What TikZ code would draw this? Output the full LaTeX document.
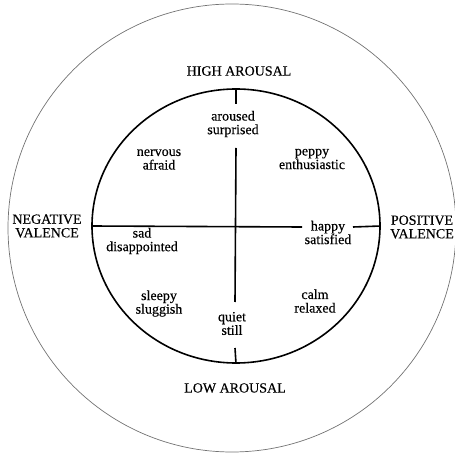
\documentclass[tikz,border=0pt]{standalone}
\usepackage{fontspec}
\setmainfont{Liberation Serif}
\newfontfamily\scanfont[FakeBold=0.35]{Liberation Serif}
\usetikzlibrary{shapes.geometric}
\begin{document}
\begin{tikzpicture}[x=1pt,y=-1pt,
  lbl/.style={align=center,inner sep=1pt,font=\scanfont\fontsize{14}{13.6}\selectfont},
  axis/.style={line width=1.6pt},
]
\useasboundingbox (0,0) rectangle (455,454);
\node[circle,draw=black!55,line width=0.7pt,minimum size=448pt,inner sep=0] (outer) at (232,228) {};
\node[ellipse,draw,line width=1.6pt,minimum width=288pt,minimum height=274pt,inner sep=0] (circ) at (236,226) {};
% labels
\node[lbl] (high) at (239,71) {HIGH AROUSAL};
\node[lbl] (low) at (235,388) {LOW AROUSAL};
\node[lbl] (neg) at (47,226) {NEGATIVE\\VALENCE};
\node[lbl] (pos) at (422,227) {POSITIVE\\VALENCE};
\node[lbl] (aroused) at (233,124) {aroused\\surprised};
\node[lbl] (nervous) at (159,159.5) {nervous\\afraid};
\node[lbl] (peppy) at (312,159) {peppy\\enthusiastic};
\node[lbl] (happy) at (328,232.5) {happy\\satisfied};
\node[lbl] (sad) at (142,241) {sad\\disappointed};
\node[lbl] (sleepy) at (159,303.5) {sleepy\\sluggish};
\node[lbl] (quiet) at (232,323.5) {quiet\\still};
\node[lbl] (calm) at (315,301) {calm\\relaxed};
% axis end points
\coordinate (topTick) at (236,104);
\coordinate (vTop) at (236,148);
\coordinate (vBot) at (235,302);
\coordinate (botTick) at (235,348);
\coordinate (hL) at (302,227);
\coordinate (hR) at (353,227);
\draw[axis] (circ.north) -- (topTick);
\draw[axis] (vTop) -- (vBot);
\draw[axis] (botTick) -- (circ.south);
\draw[axis] (circ.west) -- (hL);
\draw[axis] (hR) -- (circ.east);
\end{tikzpicture}
\end{document}
